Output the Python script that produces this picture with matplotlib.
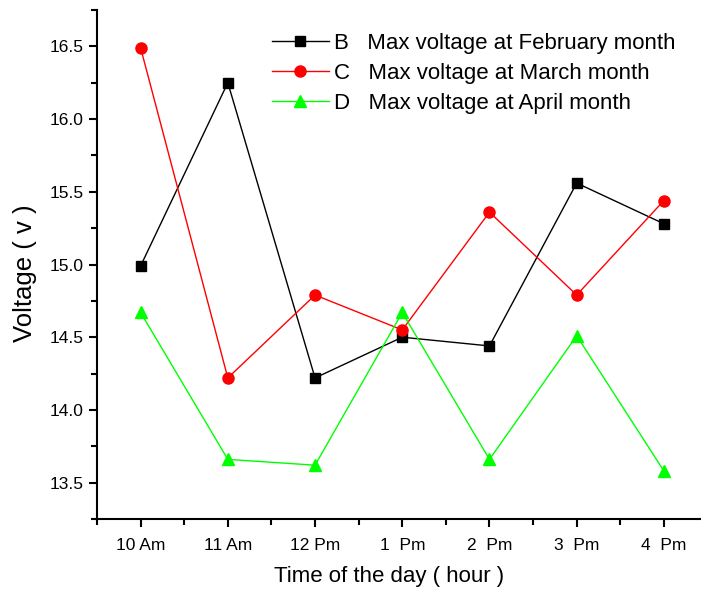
import matplotlib
matplotlib.use("Agg")
import matplotlib.pyplot as plt
from matplotlib.ticker import MultipleLocator, FixedLocator

plt.rcParams['font.family'] = ['Liberation Sans', 'DejaVu Sans']

times = ["10 Am", "11 Am", "12 Pm", "1  Pm", "2  Pm", "3  Pm", "4  Pm"]
feb = [14.99, 16.25, 14.22, 14.50, 14.44, 15.56, 15.28]
mar = [16.49, 14.22, 14.79, 14.55, 15.36, 14.79, 15.44]
apr = [14.67, 13.66, 13.62, 14.67, 13.66, 14.51, 13.58]
labels = ["B   Max voltage at February month",
          "C   Max voltage at March month",
          "D   Max voltage at April month"]

fig = plt.figure(figsize=(7.01, 5.95), dpi=100)
ax = fig.add_axes([97/701, 76/595, 1 - 97/701, (519 - 10)/595])

x = list(range(len(times)))
ax.plot(x, feb, color='black', lw=1, marker='s', ms=7.5, label=labels[0])
ax.plot(x, mar, color='red', lw=1, marker='o', ms=8, label=labels[1])
ax.plot(x, apr, color='#00ff00', lw=1, marker='^', ms=9, label=labels[2])

ax.set_xlim(-0.5, (700 - 141) / 87)
ax.set_ylim(13.25, 16.75)
ax.set_xticks(x)
ax.set_xticklabels(times)
ax.xaxis.set_minor_locator(FixedLocator([-0.5 + i for i in range(8)]))
ax.yaxis.set_major_locator(MultipleLocator(0.5))
ax.yaxis.set_minor_locator(MultipleLocator(0.25))
ax.yaxis.set_major_formatter(matplotlib.ticker.FormatStrFormatter('%.1f'))

for s in ['top', 'right']:
    ax.spines[s].set_visible(False)
for s in ['left', 'bottom']:
    ax.spines[s].set_linewidth(1.5)
ax.tick_params(which='major', direction='out', length=6, width=1.5, labelsize=12.5)
ax.tick_params(which='minor', direction='out', length=4, width=1.5)
ax.tick_params(axis='x', pad=8)

ax.set_xlabel("Time of the day ( hour )", fontsize=16, labelpad=9)
ax.set_ylabel("Voltage ( v )", fontsize=18.5, labelpad=9)
ax.xaxis.label.set_x((389 - 97) / 604)
ax.yaxis.label.set_y((519 - 273) / 509)

ax.legend(loc='upper left', bbox_to_anchor=(272/701, 1 - 33/595),
          bbox_transform=fig.transFigure, frameon=False, fontsize=16,
          handlelength=2.55, handletextpad=0.25, labelspacing=0.41,
          borderpad=0, borderaxespad=0)

fig.savefig("out.png", dpi=100)
